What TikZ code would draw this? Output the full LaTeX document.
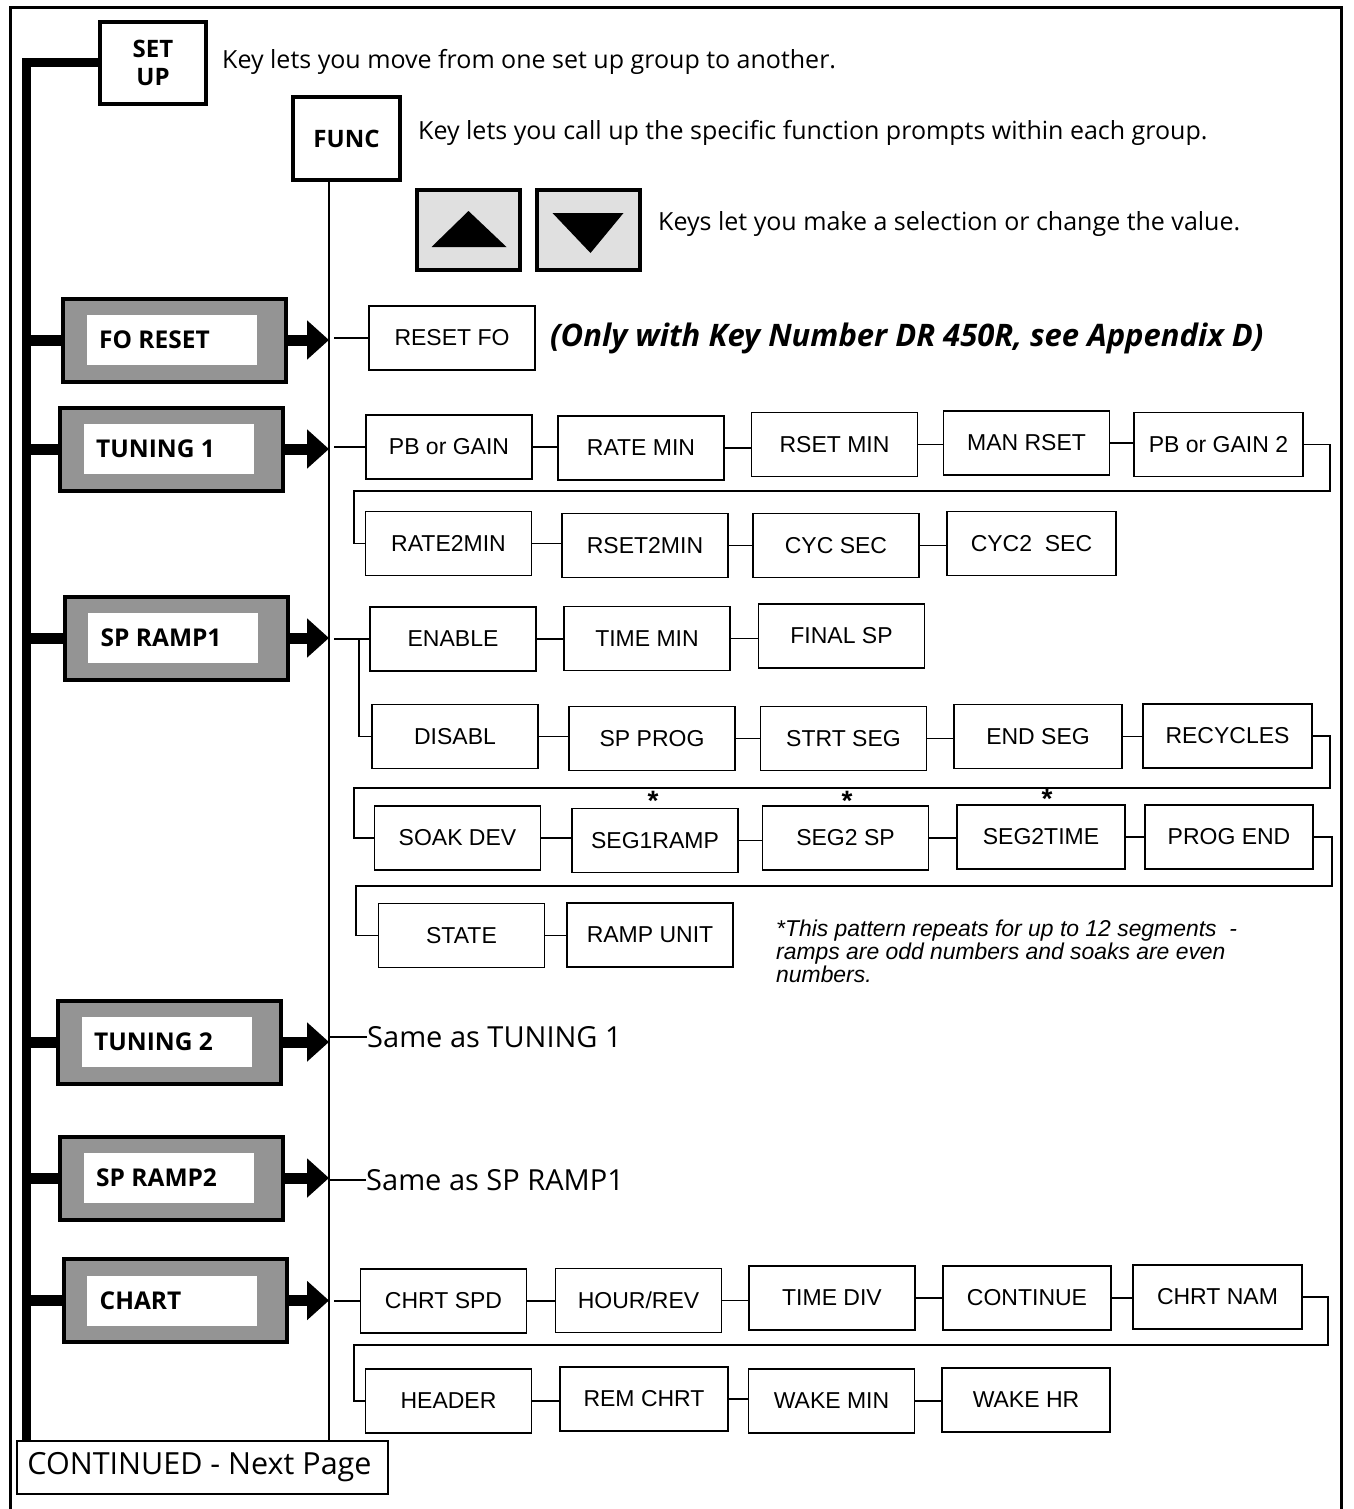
\documentclass[tikz,border=0pt]{standalone}
\usepackage{fontspec}
\setmainfont{Open Sans}
\newfontfamily\hel{Liberation Sans}
\usetikzlibrary{arrows.meta,calc}
\newcommand\grp[4]{%
  \node[grpbox] (#1) at (#2,#3) {};
  \node[grpin] (#1in) at ($(#1)+(-3,0)$) {};
  \node[grplab] (#1lab) at ($(#1.west)+(38,0)$) {#4};}
\newcommand\chain[2]{\draw[conn] (#1.east) -- (#1.east -| #2.west);}
\begin{document}
\begin{tikzpicture}[x=1pt,y=-1pt,
  pbox/.style={draw, line width=1.6pt, minimum width=166pt, minimum height=64pt, inner sep=0pt, font=\hel\fontsize{23}{27}\selectfont},
  conn/.style={line width=1.5pt},
  thickbar/.style={line width=11pt},
  grpbox/.style={draw, line width=4pt, fill=black!42, minimum width=223pt, minimum height=83pt, inner sep=0pt},
  grpin/.style={fill=white, minimum width=170pt, minimum height=50pt, inner sep=0pt},
  grplab/.style={font=\bfseries\fontsize{24.5}{28}\selectfont, inner sep=0pt, anchor=west},
  keybox/.style={draw, line width=4pt, fill=black!12, minimum width=103pt, minimum height=80pt, inner sep=0pt},
  desc/.style={font=\fontsize{25}{30}\selectfont, inner sep=0pt, anchor=west},
  same/.style={font=\fontsize{29}{34}\selectfont, inner sep=0pt, anchor=west},
  keytop/.style={draw, line width=3.5pt, fill=white, inner sep=0pt, align=center, font=\bfseries\fontsize{24}{28}\selectfont},
  ast/.style={font=\hel\bfseries\fontsize{28}{28}\selectfont, inner sep=0pt}
]
\useasboundingbox (0,0) rectangle (1353,1509);
% outer frame
\draw[line width=3pt] (10,1515) -- (10,8) -- (1341,8) -- (1341,1515);

% top keys
\node[keytop, minimum width=106pt, minimum height=82pt] (su) at (153,63) {SET\\UP};
\node[keytop, minimum width=107pt, minimum height=83pt] (func) at (346.5,138.5) {FUNC};
\node[desc] (d1) at (222,62) {Key lets you move from one set up group to another.};
\node[desc] (d2) at (418,133) {Key lets you call up the specific function prompts within each group.};
\node[keybox] (up) at (468.5,230) {};
\node[keybox] (dn) at (588.5,230) {};
\fill ($(up)+(-37,17)$) -- ($(up)+(38,17)$) -- ($(up)+(0,-19)$) -- cycle;
\fill ($(dn)+(-36,-17)$) -- ($(dn)+(35,-17)$) -- ($(dn)+(2,23)$) -- cycle;
\node[desc] (d3) at (658,224) {Keys let you make a selection or change the value.};

% spine lines
\coordinate (fl) at (329,1441);
\coordinate (bb) at (26,1443);
\draw[conn] (func.south -| fl) -- (fl);
\draw[line width=9pt] (su.west) -| (bb);

% groups
\grp{fo}{174.5}{340}{FO RESET}
\grp{tone}{171.5}{449}{TUNING 1}
\grp{srone}{176}{638}{SP RAMP1}
\grp{ttwo}{169.5}{1042}{TUNING 2}
\grp{srtwo}{171.5}{1178}{SP RAMP2}
\grp{ch}{175}{1300.5}{CHART}
\foreach \g in {fo,tone,srone,ttwo,srtwo,ch}{
  \draw[thickbar] (bb |- \g.west) -- (\g.west);
  \draw[thickbar, -{Triangle[length=22pt,width=38pt]}] (\g.east) -- (\g.east -| fl);
}

% FO RESET row
\node[pbox] (rfo) at (452,338) {RESET FO};
\draw[conn] ($(fl |- rfo.west)+(5,0)$) -- (rfo.west);
\node[anchor=west, inner sep=0pt, font=\bfseries\itshape\fontsize{31}{35}\selectfont] (only) at (550,338) {(Only with Key Number DR 450R, see Appendix D)};

% TUNING 1 rows
\node[pbox] (pbg) at (449,447) {PB or GAIN};
\node[pbox] (ratemin) at (641,448) {RATE MIN};
\node[pbox] (rsetmin) at (834.5,444.5) {RSET MIN};
\node[pbox] (manrset) at (1026.5,443) {MAN RSET};
\node[pbox, minimum width=169pt] (pbgtwo) at (1218.5,444.5) {PB or GAIN 2};
\node[pbox] (ratetwo) at (448.5,543.5) {RATE2MIN};
\node[pbox] (rsettwo) at (645,545.5) {RSET2MIN};
\node[pbox] (cycsec) at (836,545.5) {CYC SEC};
\node[pbox, minimum width=169pt] (cyctwo) at (1031.5,543.5) {CYC2~~SEC};
\draw[conn] ($(fl |- pbg.west)+(5,0)$) -- (pbg.west);
\chain{pbg}{ratemin}\chain{ratemin}{rsetmin}\chain{rsetmin}{manrset}\chain{manrset}{pbgtwo}
\chain{ratetwo}{rsettwo}\chain{rsettwo}{cycsec}\chain{cycsec}{cyctwo}
\coordinate (war) at (1330,491);
\coordinate (wal) at (354,491);
\draw[conn] (pbgtwo.east) -| (war) -- (wal) |- (ratetwo.west);

% SP RAMP1 rows
\node[pbox] (enable) at (453,639) {ENABLE};
\node[pbox] (timemin) at (647,638.5) {TIME MIN};
\node[pbox] (finalsp) at (841.5,636) {FINAL SP};
\node[pbox] (disabl) at (455,736.5) {DISABL};
\node[pbox] (spprog) at (652,738.5) {SP PROG};
\node[pbox] (strtseg) at (843.5,738.5) {STRT SEG};
\node[pbox, minimum width=168pt] (endseg) at (1038,736.5) {END SEG};
\node[pbox, minimum width=169pt] (recycles) at (1227.5,736) {RECYCLES};
\node[pbox] (soakdev) at (457.5,838) {SOAK DEV};
\node[pbox] (segoner) at (655,840.5) {SEG1RAMP};
\node[pbox] (segtwosp) at (845.5,838) {SEG2 SP};
\node[pbox, minimum width=168pt] (segtwot) at (1041,837) {SEG2TIME};
\node[pbox, minimum width=168pt] (progend) at (1229,837) {PROG END};
\node[pbox] (state) at (461.5,935.5) {STATE};
\node[pbox] (rampunit) at (650,935) {RAMP UNIT};
\draw[conn] ($(fl |- enable.west)+(5,0)$) -- (enable.west);
\coordinate (br) at ($(enable.west)+(-10,0)$);
\draw[conn] (br) |- (disabl.west);
\chain{enable}{timemin}\chain{timemin}{finalsp}
\chain{disabl}{spprog}\chain{spprog}{strtseg}\chain{strtseg}{endseg}\chain{endseg}{recycles}
\chain{soakdev}{segoner}\chain{segoner}{segtwosp}\chain{segtwosp}{segtwot}\chain{segtwot}{progend}
\chain{state}{rampunit}
\coordinate (wbr) at (1330,788);
\coordinate (wbl) at (354,788);
\draw[conn] (recycles.east) -| (wbr) -- (wbl) |- (soakdev.west);
\coordinate (wcr) at (1332,886);
\coordinate (wcl) at (356,886);
\draw[conn] (progend.east) -| (wcr) -- (wcl) |- (state.west);
\node[ast] (asta) at (653,801) {*};
\node[ast] (astb) at (847,801) {*};
\node[ast] (astc) at (1047,799) {*};
\node[anchor=north west, inner sep=0pt, align=left, font=\hel\itshape\fontsize{22.9}{23}\selectfont] (note) at (776,920)
  {*This pattern repeats for up to 12 segments~~-\\ramps are odd numbers and soaks are even\\numbers.};

% TUNING 2 / SP RAMP2
\node[same] (sameone) at (367,1037) {Same as TUNING 1};
\draw[conn] (fl |- sameone.west) -- (sameone.west);
\node[same] (sametwo) at (366,1180) {Same as SP RAMP1};
\draw[conn] (fl |- sametwo.west) -- (sametwo.west);

% CHART rows
\node[pbox] (chrtspd) at (443.5,1301) {CHRT SPD};
\node[pbox] (hourrev) at (638.5,1300.5) {HOUR/REV};
\node[pbox] (timediv) at (832,1298) {TIME DIV};
\node[pbox, minimum width=168pt] (contin) at (1027,1298) {CONTINUE};
\node[pbox, minimum width=169pt] (chrtnam) at (1217.5,1297) {CHRT NAM};
\node[pbox] (header) at (448.5,1401) {HEADER};
\node[pbox, minimum width=168pt] (remchrt) at (644,1399) {REM CHRT};
\node[pbox] (wakemin) at (831.5,1401) {WAKE MIN};
\node[pbox, minimum width=168pt] (wakehr) at (1026,1400) {WAKE HR};
\draw[conn] ($(fl |- chrtspd.west)+(5,0)$) -- (chrtspd.west);
\chain{chrtspd}{hourrev}\chain{hourrev}{timediv}\chain{timediv}{contin}\chain{contin}{chrtnam}
\chain{header}{remchrt}\chain{remchrt}{wakemin}\chain{wakemin}{wakehr}
\coordinate (wdr) at (1328,1345);
\coordinate (wdl) at (354,1345);
\draw[conn] (chrtnam.east) -| (wdr) -- (wdl) |- (header.west);

% continued box
\node[draw, line width=1.6pt, fill=white, minimum width=371pt, minimum height=53pt, inner sep=0pt] (cont) at (202.5,1467.5) {};
\node[anchor=west, inner sep=0pt, font=\fontsize{30.5}{34}\selectfont] (contlab) at ($(cont.west)+(11,0)$) {CONTINUED - Next Page};
\end{tikzpicture}
\end{document}
